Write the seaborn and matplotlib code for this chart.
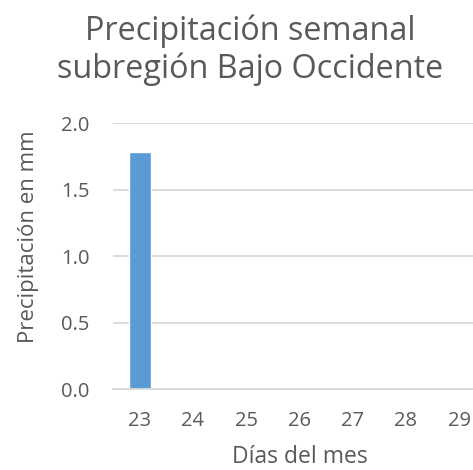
import matplotlib
matplotlib.use("Agg")
import matplotlib.pyplot as plt
import seaborn as sns
import pandas as pd

days = ["23", "24", "25", "26", "27", "28", "29"]
precip = [1.78, 0, 0, 0, 0, 0, 0]
yticks = [0.0, 0.5, 1.0, 1.5, 2.0]
title = "Precipitación semanal\nsubregión Bajo Occidente"
xlabel = "Días del mes"
ylabel = "Precipitación en mm"

sns.set_theme(style="white")
plt.rcParams['font.family'] = ['Open Sans', 'DejaVu Sans']

df = pd.DataFrame({"dia": days, "mm": precip})

fig = plt.figure(figsize=(4.73, 4.70), dpi=100)
ax = fig.add_axes([0.239, 0.172, 0.788, 0.566])
sns.barplot(data=df, x="dia", y="mm", color="#5B9BD5", saturation=1, width=0.41, ax=ax)

ax.set_ylim(0, 2.0)
ax.set_yticks(yticks)
ax.set_yticklabels([f"{v:.1f}" for v in yticks])
ax.set_xlim(-0.5, 6.5)
ax.yaxis.grid(True, color="#D9D9D9", linewidth=1.3)
ax.set_axisbelow(True)
for s in ["top", "right", "left"]:
    ax.spines[s].set_visible(False)
ax.spines["bottom"].set_color("#D9D9D9")
ax.spines["bottom"].set_linewidth(1.3)
ax.tick_params(axis="both", length=0, labelsize=14.5, colors="#595959")
ax.tick_params(axis="x", pad=16)
ax.tick_params(axis="y", pad=17)
ax.set_xlabel(xlabel, fontsize=16.5, color="#595959", labelpad=10)
ax.set_ylabel(ylabel, fontsize=16, color="#595959")
ax.yaxis.set_label_coords(-0.2, 0.575)
fig.text(0.529, 0.97, title, ha="center", va="top", fontsize=23.3, color="#595959", linespacing=1.2)

fig.savefig("out.png", dpi=100, facecolor="white")
